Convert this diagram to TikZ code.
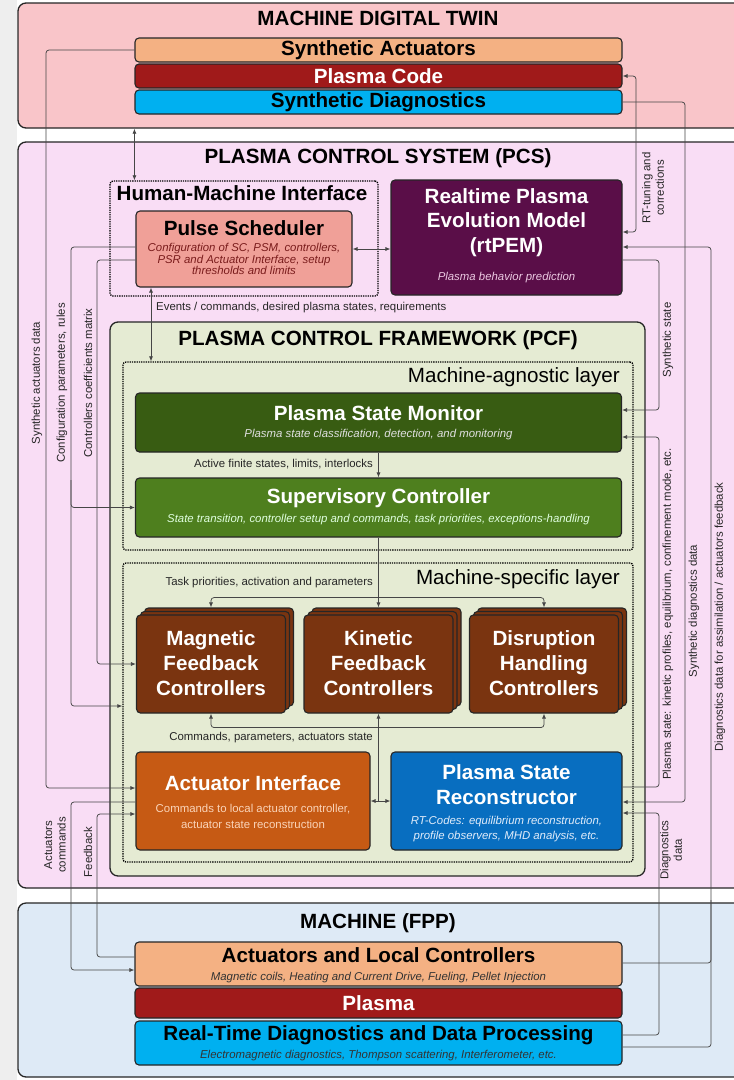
\documentclass[tikz,border=0pt]{standalone}
\usepackage{fontspec}
\setmainfont{Liberation Sans}
\usetikzlibrary{arrows.meta,calc}

\definecolor{bggray}{RGB}{238,238,238}
\definecolor{mdtpink}{RGB}{249,197,201}
\definecolor{pcspink}{RGB}{249,221,245}
\definecolor{pcfgreen}{RGB}{229,235,211}
\definecolor{machblue}{RGB}{222,234,246}
\definecolor{peach}{RGB}{244,177,131}
\definecolor{plasmared}{RGB}{160,26,26}
\definecolor{cyanbox}{RGB}{0,176,240}
\definecolor{psfill}{RGB}{240,160,152}
\definecolor{psred}{RGB}{122,28,28}
\definecolor{rtfill}{RGB}{90,14,72}
\definecolor{rtsub}{RGB}{235,200,225}
\definecolor{psmfill}{RGB}{56,92,18}
\definecolor{scfill}{RGB}{78,127,30}
\definecolor{ctrlfill}{RGB}{122,52,16}
\definecolor{aifill}{RGB}{198,90,20}
\definecolor{aisub}{RGB}{250,212,185}
\definecolor{psrfill}{RGB}{8,110,192}
\definecolor{psrsub}{RGB}{225,236,250}
\definecolor{linegray}{RGB}{70,70,70}

\newcommand\Tf{\fontsize{20.6}{24.5}\selectfont\bfseries}
\newcommand\Tn{\fontsize{20.6}{24.5}\selectfont}
\newcommand\Sf{\fontsize{11.4}{13.5}\selectfont}

\begin{document}
\begin{tikzpicture}[x=1pt,y=-1pt,
  panel/.style={draw=black!85, line width=1.3pt, rounded corners=8pt, inner sep=0pt},
  box/.style={draw=black!85, line width=1.1pt, rounded corners=4pt, inner sep=0pt, align=center},
  dotbox/.style={draw=black, line width=1.3pt, densely dotted, rounded corners=3pt, inner sep=0pt},
  ctrl/.style={box, fill=ctrlfill, minimum width=149pt, minimum height=98pt},
  wide/.style={box, minimum width=487pt},
  conn/.style={draw=linegray, line width=0.75pt, rounded corners=3pt},
  arrowend/.style={-{Latex[length=5pt,width=4pt]}},
  arrowboth/.style={{Latex[length=5pt,width=4pt]}-{Latex[length=5pt,width=4pt]}},
  ttl/.style={font=\Tf, inner sep=0pt, align=center},
  ttlw/.style={ttl, text=white},
  sml/.style={font=\Sf, inner sep=0pt, align=center},
  side/.style={font=\Sf, inner sep=0pt, align=center, rotate=90, text=black!85}
]
\useasboundingbox (0,0) rectangle (734,1080);
\clip (0,0) rectangle (734,1080);
\fill[white] (0,0) rectangle (734,1080);
\fill[bggray] (0,0) rectangle (17,1080);

% ---------------- MACHINE DIGITAL TWIN
\node[panel, fill=mdtpink, minimum width=742pt, minimum height=125pt] (mdt) at (389,65.5) {};
\node[ttl] at (378,18) {MACHINE DIGITAL TWIN};
\node[wide, fill=peach, minimum height=24pt, font=\Tf] (sa) at (378.5,50) {Synthetic Actuators};
\node[wide, fill=plasmared, text=white, minimum height=24pt, font=\Tf] (pc) at (378.5,76) {Plasma Code};
\node[wide, fill=cyanbox, minimum height=24pt, font=\Tf] (sd) at (378.5,102) {Synthetic Diagnostics};

% ---------------- PCS
\node[panel, fill=pcspink, minimum width=742pt, minimum height=746pt] (pcs) at (389,515) {};
\node[ttl] at (378,158) {PLASMA CONTROL SYSTEM (PCS)};

\node[dotbox, minimum width=268pt, minimum height=115pt] (hmi) at (244,238.5) {};
\node[ttl] at (242,193) {Human-Machine Interface};
\node[box, fill=psfill, minimum width=216pt, minimum height=76pt] (ps) at (244,249) {};
\node[ttl] at (244,228) {Pulse Scheduler};
\node[font=\fontsize{11.4}{11.8}\selectfont\itshape, text=psred, inner sep=0pt, align=center] at (244,259)
  {Configuration of SC, PSM, controllers,\\PSR and Actuator Interface, setup\\thresholds and limits};

\node[box, fill=rtfill, minimum width=231pt, minimum height=115pt] (rt) at (506.5,237.5) {};
\node[ttlw] at (506.5,222.5) {Realtime Plasma\\Evolution Model\\(rtPEM)};
\node[sml, font=\Sf\itshape, text=rtsub] at (506.5,278) {Plasma behavior prediction};

\node[sml, anchor=west, text=black!85] at (156,308) {Events / commands, desired plasma states, requirements};

% ---------------- PCF
\node[panel, fill=pcfgreen, minimum width=535pt, minimum height=554pt] (pcf) at (377.5,599) {};
\node[ttl] at (378,340) {PLASMA CONTROL FRAMEWORK (PCF)};

\node[dotbox, minimum width=510pt, minimum height=188pt] (agn) at (378,456) {};
\node[font=\Tn, inner sep=0pt, anchor=east] at (620,377) {Machine-agnostic layer};

\node[box, fill=psmfill, minimum width=486pt, minimum height=59pt] (psm) at (378.5,422.5) {};
\node[ttlw] at (378.5,413) {Plasma State Monitor};
\node[sml, font=\Sf\itshape, text=white!88!black] at (378.5,435) {Plasma state classification, detection, and monitoring};

\node[sml, anchor=east, text=black!85] at (373,464) {Active finite states, limits, interlocks};

\node[box, fill=scfill, minimum width=486pt, minimum height=59pt] (sc) at (378.5,507.5) {};
\node[ttlw] at (378.5,498) {Supervisory Controller};
\node[sml, font=\Sf\itshape, text=white!88!green] at (378.5,520) {State transition, controller setup and commands, task priorities, exceptions-handling};

\node[dotbox, minimum width=510pt, minimum height=299pt] (spec) at (378,712.5) {};
\node[font=\Tn, inner sep=0pt, anchor=east] at (620,579) {Machine-specific layer};
\node[sml, anchor=east, text=black!85] at (373,583) {Task priorities, activation and parameters};

% controllers (stacked)
\node[ctrl] (mag3) at (219,657) {};
\node[ctrl] (mag2) at (215,660.5) {};
\node[ctrl] (mag) at (211,664) {};
\node[ttlw, font=\fontsize{20.6}{25}\selectfont\bfseries] at (211,663) {Magnetic\\Feedback\\Controllers};
\node[ctrl] (kin3) at (386.5,657) {};
\node[ctrl] (kin2) at (382.5,660.5) {};
\node[ctrl] (kin) at (378.5,664) {};
\node[ttlw, font=\fontsize{20.6}{25}\selectfont\bfseries] at (378.5,663) {Kinetic\\Feedback\\Controllers};
\node[ctrl] (dis3) at (552,657) {};
\node[ctrl] (dis2) at (548,660.5) {};
\node[ctrl] (dis) at (544,664) {};
\node[ttlw, font=\fontsize{20.6}{25}\selectfont\bfseries] at (544,663) {Disruption\\Handling\\Controllers};

\node[sml, anchor=east, text=black!85] at (373,738) {Commands, parameters, actuators state};

\node[box, fill=aifill, minimum width=234pt, minimum height=98pt] (ai) at (253,801) {};
\node[ttlw] at (253,783) {Actuator Interface};
\node[font=\fontsize{11.4}{16}\selectfont, text=aisub, inner sep=0pt, align=center] at (253,816)
  {Commands to local actuator controller,\\actuator state reconstruction};

\node[box, fill=psrfill, minimum width=231pt, minimum height=98pt] (psr) at (506.5,801) {};
\node[ttlw] at (506.5,784.5) {Plasma State\\Reconstructor};
\node[font=\fontsize{11.4}{15}\selectfont\itshape, text=psrsub, inner sep=0pt, align=center] at (506.5,829.5)
  {RT-Codes: equilibrium reconstruction,\\profile observers, MHD analysis, etc.};

% ---------------- MACHINE
\node[panel, fill=machblue, minimum width=742pt, minimum height=174pt] (mach) at (389,990) {};
\node[ttl] at (378,923) {MACHINE (FPP)};
\node[wide, fill=peach, minimum height=44pt] (alc) at (378.5,964) {};
\node[ttl] at (378.5,955.5) {Actuators and Local Controllers};
\node[sml, font=\Sf\itshape, text=black!80] at (378.5,978) {Magnetic coils, Heating and Current Drive, Fueling, Pellet Injection};
\node[wide, fill=plasmared, text=white, minimum height=30pt, font=\Tf] (pl) at (378.5,1003) {Plasma};
\node[wide, fill=cyanbox, minimum height=44pt] (rtd) at (378.5,1043) {};
\node[ttl] at (378.5,1035) {Real-Time Diagnostics and Data Processing};
\node[sml, font=\Sf\itshape, text=black!80] at (378.5,1056) {Electromagnetic diagnostics, Thompson scattering, Interferometer, etc.};

% ---------------- side labels
\node[side] at (37,383) {Synthetic actuators data};
\node[side] at (62,383) {Configuration parameters, rules};
\node[side] at (88,383) {Controllers coefficients matrix};
\node[side] at (55,845) {Actuators\\commands};
\node[side] at (88,852) {Feedback};
\node[side] at (653,188) {RT-tuning and\\corrections};
\node[side] at (668,340) {Synthetic state};
\node[side] at (668,614) {Plasma state: kinetic profiles, equilibrium, confinement mode, etc.};
\node[side] at (694,611) {Synthetic diagnostics data};
\node[side] at (720,617) {Diagnostics data for assimilation / actuators feedback};
\node[side] at (671,850) {Diagnostics\\data};

% ---------------- connectors
\draw[conn, arrowboth] (mdt.south -| sa.west) -- (hmi.north -| sa.west);
\draw[conn, arrowend] (sa.west) -| (46,600) |- ([yshift=13pt]ai.west);
\draw[conn, arrowend] ([yshift=2pt]ps.west) -| (71,650) |- ([yshift=6.5pt]spec.west);
\coordinate (cfgj) at (71,480);
\draw[conn, arrowend] (cfgj) |- (sc.west);
\draw[conn, arrowend] ([yshift=-11pt]ps.west) -| (97,500) |- (mag.west);
\draw[conn, arrowboth] ([xshift=-93pt]ps.south) -- ([xshift=-93pt]ps.south |- agn.north);
\draw[conn, arrowboth] (ps.east) -- (ps.east -| rt.west);
\draw[conn, arrowend] (psm.south) -- (sc.north);

\coordinate (tb) at ($(sc.south)+(0,60)$);
\draw[conn, arrowend] (sc.south) -- (sc.south |- kin3.north);
\draw[conn, arrowend] (tb) -| (mag.north |- mag3.north);
\draw[conn, arrowend] (tb) -| (dis.north |- dis3.north);

\coordinate (bb) at ($(kin.south)+(0,14)$);
\draw[conn, arrowboth] (ai.east) -- (psr.west);
\draw[conn, arrowend] (kin.south |- ai.east) -- (kin.south);
\draw[conn, arrowend] (bb) -| (mag.south);
\draw[conn, arrowend] (bb) -| (dis.south);

\draw[conn, arrowend] ([yshift=-1pt]ai.west) -| (71,900) |- ([yshift=-6pt]alc.west);
\draw[conn, arrowend] ([yshift=7pt]alc.west) -| (97,900) |- ([yshift=-13pt]ai.west);

\draw[conn, arrowboth] ([yshift=5.5pt]rt.east) -| (636,150) |- (pc.east);
\draw[conn, arrowend] ([yshift=-22.5pt]rt.east) -| (659,330) |- ([yshift=12.5pt]psm.east);
\draw[conn, arrowend] ([yshift=14pt]psr.east) -| (659,600) |- ([yshift=-14.5pt]psm.east);
\draw[conn, arrowend] (sd.east) -| (685,500) |- ([yshift=-1pt]psr.east);
\draw[conn, arrowend] ([yshift=8pt]rtd.east) -| (659,900) |- ([yshift=-12pt]psr.east);
\draw[conn, arrowend] ([yshift=-4pt]rtd.east) -| (711,600) |- ([yshift=-9.5pt]rt.east);
\draw[conn] ([yshift=1pt]alc.east) -| (711,900);
\end{tikzpicture}
\end{document}
